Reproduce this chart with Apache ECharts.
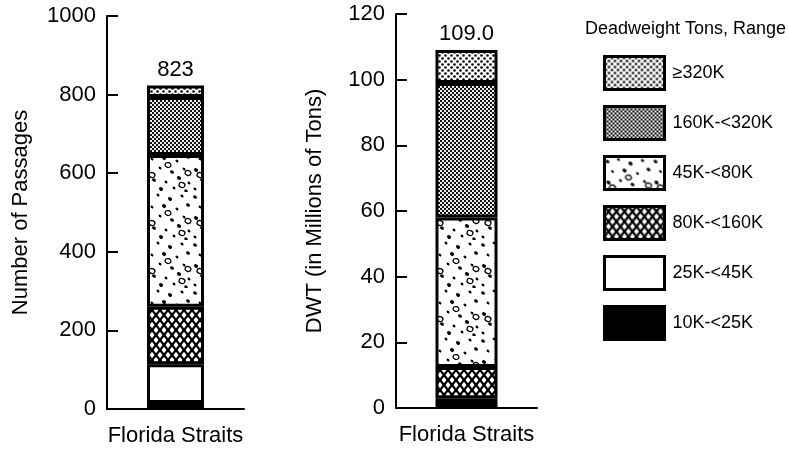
<!DOCTYPE html>
<html>
<head>
<meta charset="utf-8">
<script src="https://cdn.jsdelivr.net/npm/echarts@6/dist/echarts.min.js"></script>
<style>
html,body{margin:0;padding:0;background:#fff;}
#chart{width:789px;height:452px;}
</style>
</head>
<body>
<div id="chart"></div>
<script>
// ---- data ----
const categories = ['Florida Straits'];
// stack order, bottom to top
const ranges = ['10K-<25K', '25K-<45K', '80K-<160K', '45K-<80K', '160K-<320K', '≥320K'];
const legendOrder = ['≥320K', '160K-<320K', '45K-<80K', '80K-<160K', '25K-<45K', '10K-<25K'];
const passages = [15, 99, 146, 386, 148, 29];
const dwtMillions = [1.5, 1.5, 9.5, 45.5, 41, 10];
const totalLabels = ['823', '109.0'];
const passageTicks = [0, 1000, 200];
const dwtTicks = [0, 120, 20];

// ---- patterns (styles) ----
function tile(w, h, draw) {
  const c = document.createElement('canvas');
  c.width = w; c.height = h;
  const ctx = c.getContext('2d');
  draw(ctx, w, h);
  return { image: c, repeat: 'repeat' };
}
const fills = {
  '10K-<25K': '#000',
  '25K-<45K': '#fff',
  '80K-<160K': tile(8, 10, (ctx, w, h) => {
    ctx.fillStyle = '#fff'; ctx.fillRect(0, 0, w, h);
    ctx.strokeStyle = '#000'; ctx.lineWidth = 2.3;
    for (let dx = -w; dx <= w; dx += w) {
      for (let dy = -h; dy <= h; dy += h) {
        ctx.beginPath(); ctx.moveTo(dx, dy); ctx.lineTo(dx + w, dy + h); ctx.stroke();
        ctx.beginPath(); ctx.moveTo(dx + w, dy); ctx.lineTo(dx, dy + h); ctx.stroke();
      }
    }
  }),
  '45K-<80K': tile(48, 48, (ctx) => {
    ctx.fillStyle = '#fff'; ctx.fillRect(0, 0, 48, 48);
    ctx.fillStyle = '#000';
    const dots = [[3,5,1.6],[14,3,1.2],[26,7,1.7],[38,4,1.3],[8,15,1.2],[20,14,1.7],[33,17,1.2],[44,13,1.6],
                  [4,26,1.7],[16,24,1.2],[28,28,1.6],[40,25,1.2],[10,36,1.6],[22,38,1.2],[35,34,1.7],[45,39,1.2],
                  [3,45,1.2],[17,45,1.7],[30,44,1.2],[42,47,1.4]];
    dots.forEach(d => { ctx.beginPath(); ctx.ellipse(d[0], d[1], d[2]*1.3, d[2], 0.6, 0, Math.PI*2); ctx.fill(); });
    ctx.strokeStyle = '#000'; ctx.lineWidth = 1.3;
    [[24,21],[8,31],[38,41],[44,29]].forEach(o => { ctx.beginPath(); ctx.ellipse(o[0], o[1], 3, 2.4, 0.3, 0, Math.PI*2); ctx.stroke(); });
  }),
  '160K-<320K': tile(4, 4, (ctx) => {
    ctx.fillStyle = '#eee'; ctx.fillRect(0, 0, 4, 4);
    ctx.fillStyle = '#111'; ctx.fillRect(0, 0, 2, 2); ctx.fillRect(2, 2, 2, 2);
  }),
  '≥320K': tile(6, 6, (ctx) => {
    ctx.fillStyle = '#fff'; ctx.fillRect(0, 0, 6, 6);
    ctx.fillStyle = '#000';
    ctx.beginPath(); ctx.arc(1.5, 1.5, 1.3, 0, Math.PI*2); ctx.fill();
    ctx.beginPath(); ctx.arc(4.5, 4.5, 1.3, 0, Math.PI*2); ctx.fill();
  })
};

const FONT = '"Liberation Sans", Arial, Helvetica, sans-serif';
const axisLine = { show: true, lineStyle: { color: '#000', width: 2 } };

function makeSeries(values, idx, stack, barWidth, totalLabel) {
  return ranges.map((name, i) => ({
    name: name,
    type: 'bar',
    stack: stack,
    xAxisIndex: idx,
    yAxisIndex: idx,
    barWidth: barWidth,
    data: [values[i]],
    itemStyle: { color: fills[name], borderColor: '#000', borderWidth: 3 },
    label: i === ranges.length - 1 ? {
      show: true, position: 'top', distance: 5,
      formatter: () => totalLabel,
      color: '#000', fontSize: 22, fontFamily: FONT
    } : { show: false },
    emphasis: { disabled: true },
    animation: false
  }));
}

function yAxis(idx, ticks, name, nameGap) {
  return {
    type: 'value', gridIndex: idx,
    min: ticks[0], max: ticks[1], interval: ticks[2],
    name: name, nameLocation: 'middle', nameGap: nameGap,
    nameTextStyle: { color: '#000', fontSize: 22, fontFamily: FONT },
    axisLine: axisLine,
    axisTick: { show: true, inside: true, length: 11, lineStyle: { color: '#000', width: 2 } },
    axisLabel: { color: '#000', fontSize: 22, fontFamily: FONT, margin: 11, formatter: v => String(v) },
    splitLine: { show: false }
  };
}
function xAxis(idx) {
  return {
    type: 'category', gridIndex: idx, data: categories,
    axisLine: axisLine, axisTick: { show: false },
    axisLabel: { color: '#000', fontSize: 22, fontFamily: FONT, margin: 16 }
  };
}

const chart = echarts.init(document.getElementById('chart'));
chart.setOption({
  backgroundColor: '#fff',
  animation: false,
  title: {
    text: 'Deadweight Tons, Range', left: 580, top: 15,
    textStyle: { color: '#000', fontSize: 18, fontWeight: 'normal', fontFamily: FONT }
  },
  legend: {
    data: legendOrder, orient: 'vertical', left: 598, top: 50,
    itemWidth: 60, itemHeight: 33, itemGap: 14,
    icon: 'rect',
    selectedMode: false,
    itemStyle: { borderColor: '#000', borderWidth: 3 },
    textStyle: { color: '#000', fontSize: 18, fontFamily: FONT, padding: [0, 0, 0, 3] }
  },
  grid: [
    { left: 107, top: 16, width: 137, height: 393 },
    { left: 396, top: 14, width: 141, height: 394 }
  ],
  xAxis: [xAxis(0), xAxis(1)],
  yAxis: [yAxis(0, passageTicks, 'Number of Passages', 75), yAxis(1, dwtTicks, 'DWT (in Millions of Tons)', 70)],
  series: [].concat(
    makeSeries(passages, 0, 'p', 57, totalLabels[0]),
    makeSeries(dwtMillions, 1, 'd', 62, totalLabels[1])
  )
});
</script>
</body>
</html>
